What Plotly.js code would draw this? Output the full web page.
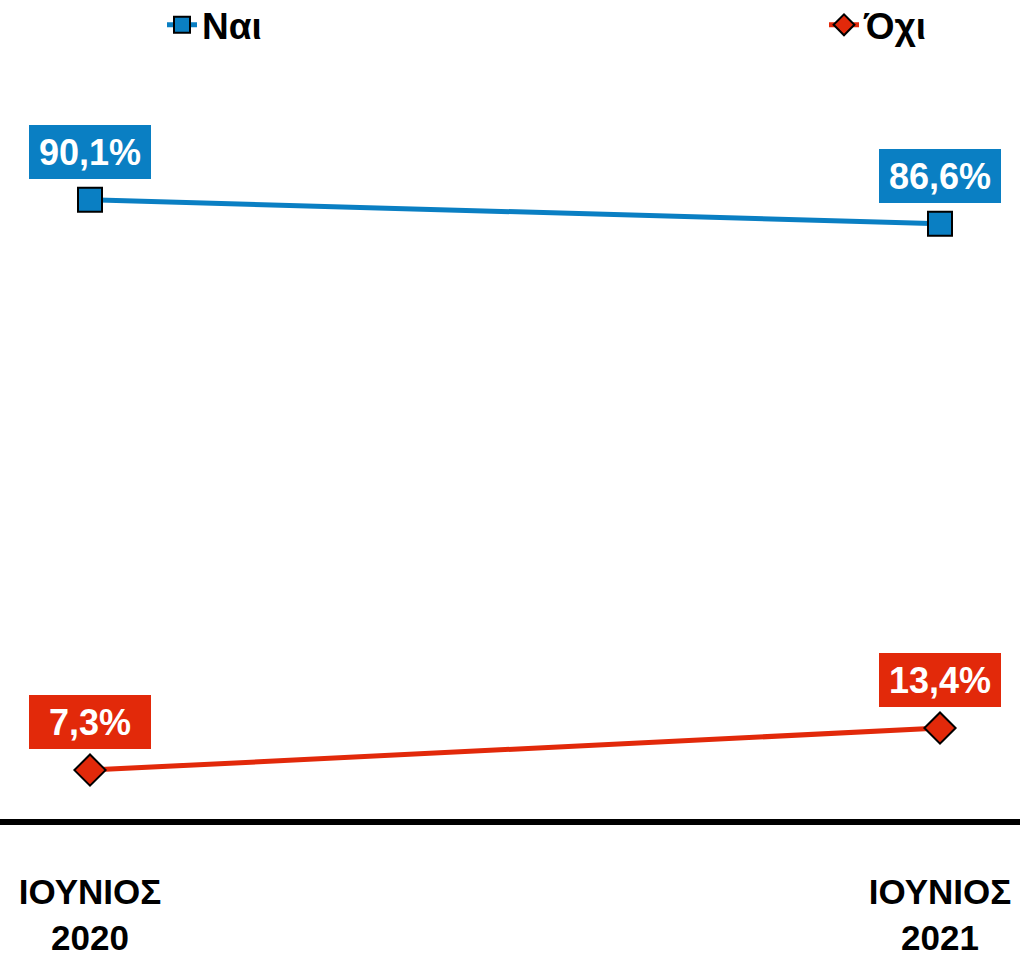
<!DOCTYPE html>
<html>
<head>
<meta charset="utf-8">
<script src="https://cdn.plot.ly/plotly-3.0.1.min.js"></script>
<style>html,body{margin:0;padding:0;background:#fff;}#chart{width:1020px;height:956px;}</style>
</head>
<body>
<div id="chart"></div>
<script>
// Data
var periods = [0, 1];
var periodLabels = ["ΙΟΥΝΙΟΣ<br>2020", "ΙΟΥΝΙΟΣ<br>2021"];
var seriesNames = ["Ναι", "Όχι"];
var yesValues = [90.1, 86.6];
var noValues = [7.3, 13.4];
var yesLabels = ["90,1%", "86,6%"];
var noLabels = ["7,3%", "13,4%"];

var blue = "#0A7FC3";
var red = "#E2290A";
var fontFam = "Liberation Sans, Arial, sans-serif";

var traces = [
  {x: periods, y: yesValues, name: seriesNames[0], type: "scatter", mode: "lines+markers",
   legend: "legend",
   line: {color: blue, width: 5},
   marker: {symbol: "square", size: 24, color: blue, line: {color: "#000", width: 2}}},
  {x: periods, y: noValues, name: seriesNames[1], type: "scatter", mode: "lines+markers",
   legend: "legend2",
   line: {color: red, width: 5},
   marker: {symbol: "diamond", size: 24, color: red, line: {color: "#000", width: 2}}}
];

var annotations = [];
function addLabels(vals, labels, color) {
  for (var i = 0; i < vals.length; i++) {
    annotations.push({
      x: periods[i], y: vals[i], xref: "x", yref: "y",
      text: labels[i], showarrow: false,
      xanchor: "center", yanchor: "bottom", yshift: 21,
      bgcolor: color, borderpad: 0, borderwidth: 0,
      width: 122, height: 54,
      font: {family: fontFam, size: 36, color: "#fff", weight: "bold"}
    });
  }
}
addLabels(yesValues, yesLabels, blue);
addLabels(noValues, noLabels, red);

var legendCommon = {
  orientation: "h", xanchor: "left", y: 1.007, yanchor: "top",
  font: {family: fontFam, size: 37, color: "#000", weight: "bold"},
  bgcolor: "rgba(0,0,0,0)"
};

var layout = {
  width: 1020, height: 956,
  margin: {l: 0, r: 0, t: 0, b: 137, autoexpand: false},
  paper_bgcolor: "#fff", plot_bgcolor: "#fff",
  showlegend: true,
  legend: Object.assign({}, legendCommon, {x: 162/1020}),
  legend2: Object.assign({}, legendCommon, {x: 824/1020}),
  xaxis: {range: [-90/850, 1 + 80/850], tickvals: periods, ticktext: periodLabels,
          showgrid: false, zeroline: false, showline: true, linecolor: "#000", linewidth: 6,
          ticks: "", ticklabelstandoff: 37,
          tickfont: {family: fontFam, size: 35, color: "#000", weight: "bold"},
          fixedrange: true},
  yaxis: {range: [0.2, 119.1], visible: false, showgrid: false, zeroline: false, fixedrange: true},
  annotations: annotations
};

Plotly.newPlot("chart", traces, layout, {displayModeBar: false, staticPlot: true});
</script>
</body>
</html>
